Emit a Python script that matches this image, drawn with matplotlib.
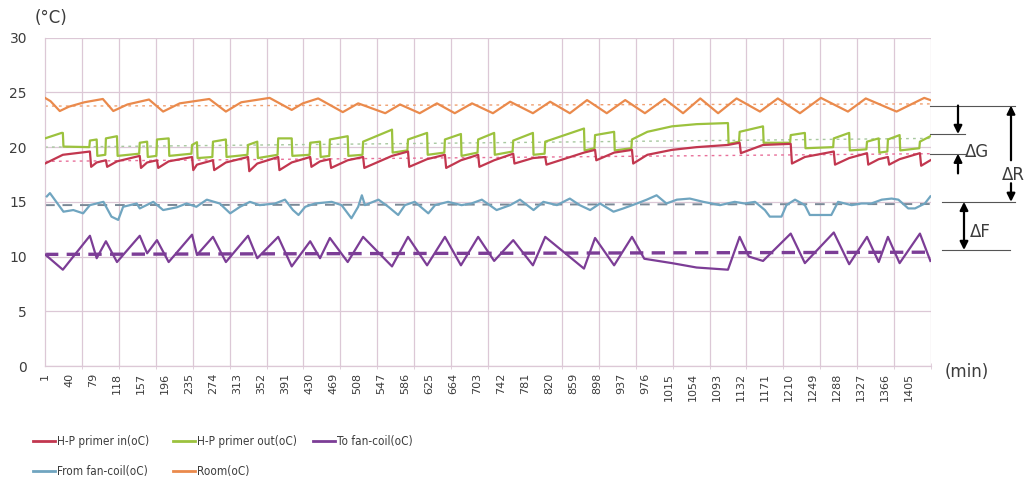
import matplotlib
matplotlib.use("Agg")
import matplotlib.pyplot as plt
import matplotlib.transforms as mtransforms
import matplotlib.font_manager as fm
from matplotlib.lines import Line2D

# time of day in minutes, temperatures in degC

# heat pump primary inlet (red)
hp_in_t = [1, 30, 74, 76, 85, 100, 102, 118, 155, 157, 167, 183, 185, 202,
           240, 242, 248, 274, 276, 295, 331, 333, 346, 380, 382, 402, 432,
           434, 448, 464, 466, 493, 518, 520, 565, 591, 593, 622, 651, 653,
           677, 705, 707, 731, 762, 764, 794, 814, 816, 877, 895, 897, 926,
           955, 957, 980, 1020, 1060, 1111, 1130, 1132, 1168, 1213, 1215,
           1236, 1283, 1285, 1308, 1337, 1339, 1356, 1371, 1373, 1390, 1423,
           1425, 1440]
hp_in = [18.5, 19.3, 19.6, 18.2, 18.6, 18.8, 18.2, 18.7, 19.2, 18.1, 18.6,
         18.8, 18.1, 18.7, 19.1, 17.9, 18.4, 18.8, 17.9, 18.6, 19.1, 17.8,
         18.5, 19.1, 17.9, 18.6, 19.1, 18.2, 18.7, 18.9, 18.1, 18.8, 19.1,
         18.1, 19.2, 19.6, 18.2, 18.9, 19.3, 18.1, 18.8, 19.3, 18.2, 18.8,
         19.4, 18.5, 19.0, 19.1, 18.4, 19.5, 19.75, 18.8, 19.5, 19.75, 18.5,
         19.3, 19.75, 20.0, 20.2, 20.4, 19.45, 20.2, 20.3, 18.5, 19.1, 19.6,
         18.4, 19.0, 19.45, 18.4, 18.9, 19.1, 18.4, 18.9, 19.45, 18.3, 18.8]

# heat pump primary outlet (green)
hp_out_t = [1, 28, 30, 31, 73, 74, 85, 86, 99, 100, 118, 119, 154, 155, 167,
            168, 182, 183, 202, 203, 239, 240, 248, 249, 273, 274, 295, 296,
            330, 331, 346, 347, 379, 380, 402, 403, 431, 432, 448, 449, 463,
            464, 493, 494, 517, 518, 565, 566, 590, 591, 622, 623, 650, 651,
            677, 678, 704, 705, 731, 732, 761, 762, 794, 795, 813, 814, 877,
            878, 894, 895, 926, 927, 954, 955, 980, 1020, 1060, 1111, 1112,
            1129, 1130, 1168, 1169, 1212, 1213, 1236, 1237, 1282, 1283, 1308,
            1309, 1336, 1337, 1356, 1357, 1370, 1371, 1390, 1391, 1422, 1423,
            1440]
hp_out = [20.8, 21.3, 21.3, 20.05, 20.0, 20.6, 20.7, 19.2, 19.3, 20.8, 21.0,
          19.2, 19.4, 20.4, 20.5, 19.1, 19.2, 20.7, 20.8, 19.2, 19.4, 20.2,
          20.45, 19.0, 19.1, 20.5, 20.7, 19.1, 19.3, 20.2, 20.5, 19.0, 19.3,
          20.8, 20.8, 19.2, 19.3, 20.4, 20.5, 19.1, 19.2, 20.7, 21.0, 19.2,
          19.3, 20.5, 21.6, 19.5, 19.7, 20.7, 21.3, 19.3, 19.5, 20.7, 21.2,
          19.2, 19.5, 20.7, 21.3, 19.3, 19.6, 20.6, 21.3, 19.3, 19.4, 20.5,
          21.7, 19.7, 19.9, 21.1, 21.4, 19.7, 19.9, 20.7, 21.4, 21.9, 22.1,
          22.2, 20.3, 20.5, 21.4, 21.9, 20.4, 20.4, 21.1, 21.3, 19.9, 20.0,
          20.8, 21.3, 19.7, 19.8, 20.5, 20.8, 19.5, 19.6, 20.7, 21.1, 19.7,
          19.9, 20.5, 21.0]

# supply to fan-coil (purple)
to_fc_t = [1, 30, 74, 85, 100, 118, 155, 167, 183, 202, 240, 248, 274, 295,
           331, 346, 380, 402, 432, 448, 464, 493, 518, 565, 591, 622, 651,
           677, 705, 731, 762, 794, 814, 877, 895, 926, 955, 975, 1020, 1060,
           1111, 1130, 1145, 1168, 1213, 1236, 1283, 1308, 1337, 1356, 1371,
           1390, 1423, 1440]
to_fc = [10.2, 8.8, 11.9, 9.85, 11.4, 9.5, 11.9, 10.3, 11.5, 9.5, 12.0,
         10.15, 11.8, 9.5, 11.9, 9.85, 11.8, 9.1, 11.4, 9.85, 11.7, 9.5,
         11.8, 9.1, 11.8, 9.2, 11.8, 9.2, 11.8, 9.6, 11.5, 9.2, 11.8, 8.9,
         11.7, 9.2, 11.8, 9.8, 9.4, 9.0, 8.8, 11.8, 10.0, 9.6, 12.1, 9.4,
         12.2, 9.3, 11.8, 9.5, 11.8, 9.4, 12.1, 9.6]

# return from fan-coil (blue)
from_fc_t = [4, 9, 31, 47, 63, 74, 96, 109, 120, 128,
             150, 155, 177, 193, 215, 231, 247, 264, 285, 302,
             318, 334, 350, 375, 391, 404, 413, 424, 440, 467,
             483, 499, 510, 516, 521, 543, 559, 575, 586, 602,
             624, 635, 656, 678, 694, 711, 735, 757, 773, 795,
             811, 833, 854, 870, 887, 903, 925, 941, 963, 979,
             995, 1011, 1028, 1049, 1071, 1098, 1122, 1138, 1155, 1171,
             1179, 1198, 1206, 1220, 1236, 1244, 1279, 1290, 1312, 1328,
             1344, 1361, 1377, 1388, 1404, 1415, 1431, 1440]
from_fc = [15.5, 15.8, 14.1, 14.25, 13.95, 14.7, 15.0, 13.65, 13.35, 14.55,
           14.85, 14.4, 15.0, 14.25, 14.5, 14.85, 14.55, 15.2, 14.85, 13.95,
           14.55, 15.0, 14.7, 14.85, 15.2, 14.25, 13.8, 14.55, 14.85, 15.0,
           14.7, 13.5, 14.55, 15.6, 14.7, 15.2, 14.55, 13.8, 14.7, 15.0,
           13.95, 14.7, 15.0, 14.7, 14.85, 15.2, 14.25, 14.7, 15.2, 14.25,
           15.0, 14.7, 15.3, 14.7, 14.25, 14.85, 14.1, 14.4, 14.85, 15.2,
           15.6, 14.85, 15.2, 15.3, 15.0, 14.7, 15.0, 14.85, 15.0, 14.25,
           13.65, 13.65, 14.7, 15.2, 14.7, 13.8, 13.8, 15.0, 14.7, 14.85,
           14.85, 15.2, 15.3, 15.2, 14.4, 14.4, 14.85, 15.5]

# room air (orange)
room_t = [1, 10, 25, 40, 65, 95, 112, 135, 170, 193, 220, 268, 295, 320, 366,
          402, 420, 445, 485, 510, 554, 578, 610, 638, 667, 695, 729, 757,
          794, 822, 854, 882, 914, 944, 976, 1008, 1038, 1066, 1095, 1125,
          1163, 1192, 1228, 1262, 1306, 1335, 1385, 1430, 1440]
room = [24.5, 24.2, 23.3, 23.7, 24.1, 24.4, 23.3, 23.9, 24.35, 23.25, 24.0,
        24.4, 23.25, 24.1, 24.5, 23.4, 24.0, 24.45, 23.2, 24.0, 23.1, 23.9,
        23.1, 24.0, 23.1, 24.0, 23.1, 24.15, 23.1, 24.15, 23.1, 24.3, 23.1,
        24.3, 23.1, 24.4, 23.1, 24.45, 23.1, 24.45, 23.25, 24.45, 23.1, 24.5,
        23.25, 24.45, 23.25, 24.5, 24.3]

# linear trend lines (value at first and last minute)
trend_t = [1, 1440]
room_trend = [23.75, 23.95]
hp_out_trend = [20.0, 20.8]
hp_in_trend = [18.7, 19.4]
from_fc_trend = [14.7, 14.8]
to_fc_trend = [10.2, 10.4]

# levels marked by the difference arrows on the right
level_room = 23.8
level_out = 21.2
level_in = 19.4
level_from = 15.0
level_to = 10.6

x_labels = list(range(1, 1441, 39))
grid_t = list(range(1, 1442, 60))
y_ticks = [0, 5, 10, 15, 20, 25, 30]

c_in = '#c2374f'
c_out = '#9cc23e'
c_to = '#7c3d96'
c_from = '#70a5c0'
c_room = '#ea8a4c'
grid_c = '#dcc8d6'
text_c = '#3c3c3c'

# narrow face for the legend if one is around
font_names = {f.name for f in fm.fontManager.ttflist}
if 'Liberation Sans Narrow' in font_names:
    legend_font = dict(family='Liberation Sans Narrow', size=9.5)
else:
    cond = fm.FontProperties(family='DejaVu Sans', stretch='condensed')
    if 'Condensed' in fm.findfont(cond):
        legend_font = dict(family='DejaVu Sans', stretch='condensed', size=8.5)
    else:
        legend_font = dict(family='DejaVu Sans', size=7.5)

W, H = 1029, 488
fig = plt.figure(figsize=(W / 100, H / 100), dpi=100)
ax = fig.add_axes([45 / W, 1 - 366 / H, 886 / W, (366 - 37.7) / H])

lw = 1.6
ax.plot(room_t, room, color=c_room, lw=lw, zorder=3)
ax.plot(hp_out_t, hp_out, color=c_out, lw=lw, zorder=3)
ax.plot(hp_in_t, hp_in, color=c_in, lw=lw, zorder=4)
ax.plot(from_fc_t, from_fc, color=c_from, lw=lw, zorder=3)
ax.plot(to_fc_t, to_fc, color=c_to, lw=lw, zorder=3)

ax.plot(trend_t, room_trend, color='#f0a070', lw=1.0, ls=(0, (2, 3)), zorder=2)
ax.plot(trend_t, hp_out_trend, color='#a8c8a0', lw=1.0, ls=(0, (2, 3)), zorder=2)
ax.plot(trend_t, hp_in_trend, color='#e8709a', lw=1.0, ls=(0, (2, 3)), zorder=2)
ax.plot(trend_t, from_fc_trend, color='#7a8896', lw=1.4, ls=(0, (5, 4)), zorder=2)
ax.plot(trend_t, to_fc_trend, color=c_to, lw=2.4, ls=(0, (4, 2.5)), zorder=2)

ax.set_xlim(1, 1441)
ax.set_ylim(0, 30)
ax.set_yticks(y_ticks)
ax.set_xticks(x_labels)
ax.set_xticklabels([str(v) for v in x_labels], rotation=90)
ax.set_xticks(grid_t, minor=True)
ax.grid(which='minor', axis='x', color=grid_c, lw=0.9)
ax.grid(which='major', axis='y', color=grid_c, lw=0.9)
ax.grid(which='major', axis='x', visible=False)
ax.tick_params(axis='x', which='major', length=0, pad=5, labelsize=8,
               labelcolor=text_c)
ax.tick_params(axis='x', which='minor', length=5, direction='inout',
               color=grid_c)
ax.tick_params(axis='y', length=0, pad=13, labelsize=10, labelcolor=text_c)
for side in ['top', 'right']:
    ax.spines[side].set_visible(False)
for side in ['left', 'bottom']:
    ax.spines[side].set_color(grid_c)
    ax.spines[side].set_linewidth(0.9)

fig.text(35 / W, 1 - 18 / H, '(\u00b0C)', fontsize=12, color=text_c,
         va='center', ha='left')
fig.text(945 / W, 1 - 372 / H, '(min)', fontsize=12, color=text_c,
         va='center', ha='left')

# difference markers right of the plot
trans = mtransforms.blended_transform_factory(ax.transAxes, ax.transData)


def fx(px):
    return (px - 45) / 886


mark_c = '#555555'
for y, x0, x1 in [(level_room, 930, 1015), (level_out, 930, 965),
                  (level_in, 930, 965), (level_from, 942, 1015),
                  (level_to, 942, 1010)]:
    ax.plot([fx(x0), fx(x1)], [y, y], transform=trans, clip_on=False,
            color=mark_c, lw=0.8)


def arrow(x, y0, y1, style='-|>'):
    ax.annotate('', xy=(fx(x), y1), xytext=(fx(x), y0), xycoords=trans,
                textcoords=trans, annotation_clip=False,
                arrowprops=dict(arrowstyle=style, color='black', lw=1.6,
                                mutation_scale=12, shrinkA=0, shrinkB=0))


arrow(958, level_room, level_out)
arrow(958, 17.6, level_in)
arrow(1011, 18.8, level_room)
arrow(1011, 16.7, level_from)
arrow(964, level_from, level_to, style='<|-|>')

ax.text(fx(965), 19.55, '\u0394G', transform=trans, fontsize=12, va='center',
        ha='left', color=text_c)
ax.text(fx(1002), 17.45, '\u0394R', transform=trans, fontsize=12, va='center',
        ha='left', color=text_c)
ax.text(fx(970), 12.25, '\u0394F', transform=trans, fontsize=12, va='center',
        ha='left', color=text_c)

# legend, three columns by two rows
legend_items = [('H-P primer in(oC)', c_in, 0, 0),
                ('H-P primer out(oC)', c_out, 1, 0),
                ('To fan-coil(oC)', c_to, 2, 0),
                ('From fan-coil(oC)', c_from, 0, 1),
                ('Room(oC)', c_room, 1, 1)]
col_x = [33, 173, 313]
row_y = [441, 471]
for label, color, col, row in legend_items:
    x0 = col_x[col]
    y = 1 - row_y[row] / H
    fig.add_artist(Line2D([x0 / W, (x0 + 22) / W], [y, y], color=color,
                          lw=2.0))
    fig.text((x0 + 24) / W, y, label, color=text_c, va='center', ha='left',
             **legend_font)

fig.savefig('out.png', dpi=100)
